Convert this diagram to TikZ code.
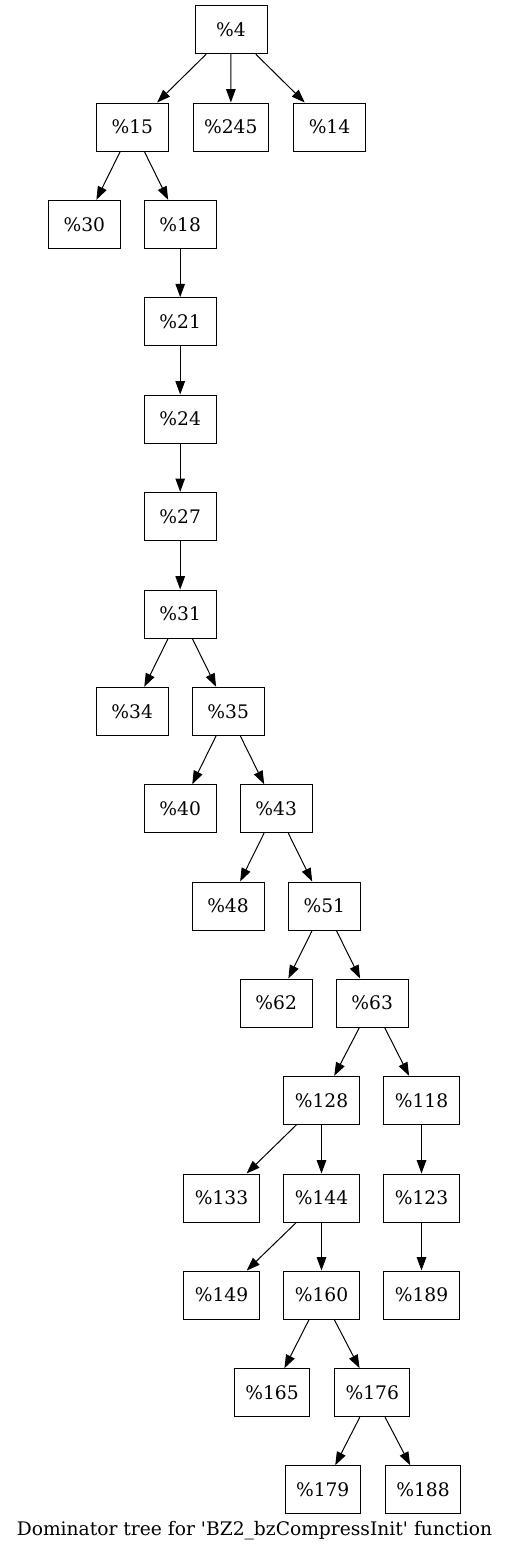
\documentclass[tikz,border=0pt]{standalone}
\usepackage{fontspec}
\newfontfamily\dv{DejaVu Serif}
\usetikzlibrary{arrows.meta}
\begin{document}
\begin{tikzpicture}[x=1pt,y=-1pt,
  blk/.style={draw=black,line width=1pt,rectangle,minimum width=72pt,minimum height=48pt,inner xsep=11pt,inner ysep=0pt,font=\dv\fontsize{18.67}{22}\selectfont},
  edge/.style={draw=black,line width=1pt,-{Triangle[length=13.3pt,width=9.5pt]}}]
\useasboundingbox (0,0) rectangle (509,1551);
\node[blk] (n4) at (231,29.7) {\%4};
\node[blk] (n15) at (132.3,127) {\%15};
\node[blk] (n245) at (230.8,127) {\%245};
\node[blk] (n14) at (329.5,127) {\%14};
\node[blk] (n30) at (84.3,224.3) {\%30};
\node[blk] (n18) at (180.2,224.3) {\%18};
\node[blk] (n21) at (180.2,321.6) {\%21};
\node[blk] (n24) at (180.2,419) {\%24};
\node[blk] (n27) at (180.2,516.3) {\%27};
\node[blk] (n31) at (180.2,614) {\%31};
\node[blk] (n34) at (132.2,711.3) {\%34};
\node[blk] (n35) at (228.2,711.3) {\%35};
\node[blk] (n40) at (180.2,808.7) {\%40};
\node[blk] (n43) at (276.2,808.7) {\%43};
\node[blk] (n48) at (228,906) {\%48};
\node[blk] (n51) at (324.3,906) {\%51};
\node[blk] (n62) at (276.2,1003) {\%62};
\node[blk] (n63) at (372.2,1003) {\%63};
\node[blk] (n128) at (321.5,1100.3) {\%128};
\node[blk] (n118) at (421.5,1100.3) {\%118};
\node[blk] (n133) at (221.5,1198) {\%133};
\node[blk] (n144) at (321.5,1198) {\%144};
\node[blk] (n123) at (421.5,1198) {\%123};
\node[blk] (n149) at (221.5,1295) {\%149};
\node[blk] (n160) at (321.5,1295) {\%160};
\node[blk] (n189) at (421.5,1295) {\%189};
\node[blk] (n165) at (272,1392.7) {\%165};
\node[blk] (n176) at (372.3,1392.7) {\%176};
\node[blk] (n179) at (322.7,1489.7) {\%179};
\node[blk] (n188) at (423,1489.7) {\%188};
\node[anchor=base,inner sep=0pt,font=\dv\fontsize{18.67}{22}\selectfont] (cap) at (254.5,1535.5) {Dominator tree for 'BZ2\_bzCompressInit' function};
\foreach \a/\b in {n4/n15,n4/n245,n4/n14,n15/n30,n15/n18,n18/n21,n21/n24,n24/n27,n27/n31,n31/n34,n31/n35,n35/n40,n35/n43,n43/n48,n43/n51,n51/n62,n51/n63,n63/n128,n63/n118,n128/n133,n128/n144,n118/n123,n144/n149,n144/n160,n123/n189,n160/n165,n160/n176,n176/n179,n176/n188}
  \draw[edge] (\a) -- (\b);
\end{tikzpicture}
\end{document}
